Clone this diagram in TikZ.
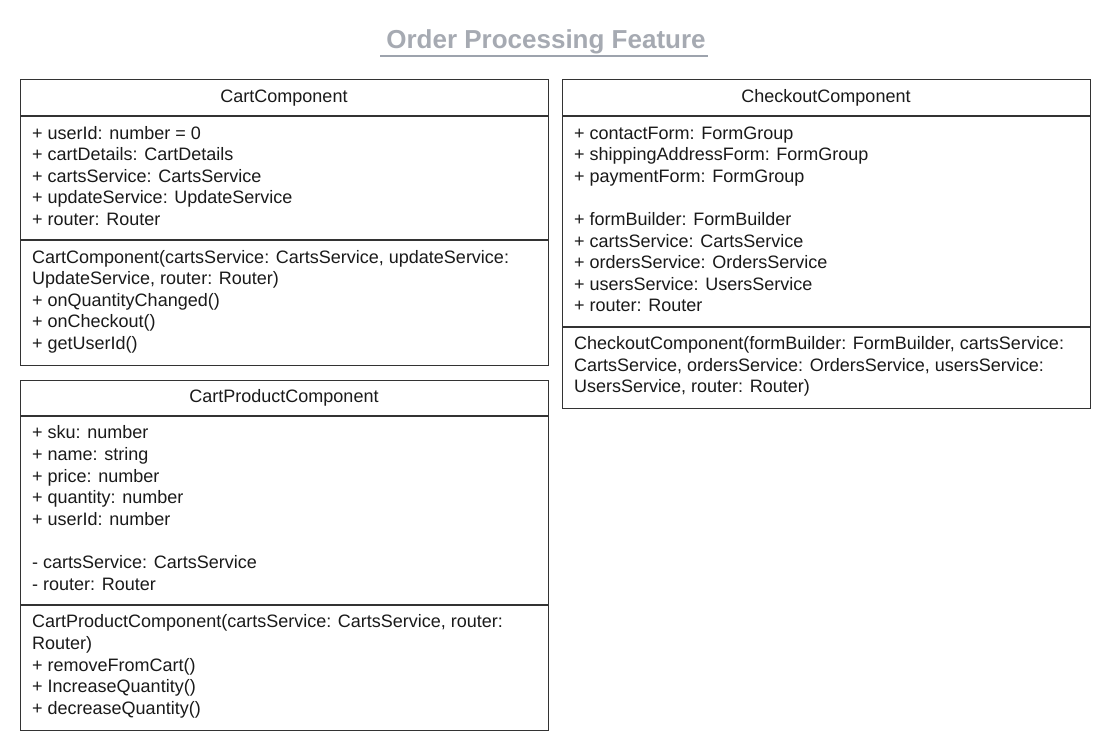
\documentclass[tikz,border=0pt]{standalone}
\usepackage{fontspec}
\setmainfont{Liberation Sans}
\definecolor{titlegray}{HTML}{A6AAB2}
\definecolor{linegray}{HTML}{9DA3AD}
\definecolor{boxline}{HTML}{333333}
\definecolor{txt}{HTML}{1A1A1A}
\begin{document}
\begin{tikzpicture}[x=1pt,y=-1pt,
  umlbox/.style={draw=boxline, line width=1.1pt, fill=white, inner sep=0pt, anchor=north west},
  divline/.style={draw=boxline, line width=1.1pt},
  rowtext/.style={anchor=base west, inner sep=0pt, text=txt, font=\fontsize{18}{21.6}\selectfont},
  headtext/.style={anchor=base, inner sep=0pt, text=txt, font=\fontsize{18}{21.6}\selectfont},
  titletext/.style={anchor=base, inner sep=0pt, text=titlegray, font=\fontsize{26}{31}\selectfont\bfseries}]
\useasboundingbox[fill=white] (0,0) rectangle (1110,748);

% title
\node[titletext] (title) at (546,48.5) {Order Processing Feature};
\coordinate (ulA) at (380,55.8);
\coordinate (ulB) at (708,55.8);
\draw[linegray, line width=2pt] (ulA) -- (ulB);

% CartComponent
\node[umlbox, minimum width=528pt, minimum height=286pt] (cart) at (20,79) {};
\draw[divline] (cart.west |- 0,116) -- (cart.east |- 0,116);
\draw[divline] (cart.west |- 0,240) -- (cart.east |- 0,240);
\node[headtext] (cartH) at (284,102.5) {CartComponent};
\foreach \t [count=\i] in {{+ userId: number = 0},{+ cartDetails: CartDetails},{+ cartsService: CartsService},{+ updateService: UpdateService},{+ router: Router}}
  \node[rowtext] (cartA\i) at (32,{139+21.6*(\i-1)}) {\t};
\foreach \t [count=\i] in {{CartComponent(cartsService: CartsService, updateService:},{UpdateService, router: Router)},{+ onQuantityChanged()},{+ onCheckout()},{+ getUserId()}}
  \node[rowtext] (cartM\i) at (32,{263+21.6*(\i-1)}) {\t};

% CartProductComponent
\node[umlbox, minimum width=528pt, minimum height=350pt] (prod) at (20,379.5) {};
\draw[divline] (prod.west |- 0,416) -- (prod.east |- 0,416);
\draw[divline] (prod.west |- 0,605) -- (prod.east |- 0,605);
\node[headtext] (prodH) at (284,402.5) {CartProductComponent};
\foreach \t [count=\i] in {{+ sku: number},{+ name: string},{+ price: number},{+ quantity: number},{+ userId: number},{},{- cartsService: CartsService},{- router: Router}}
  \node[rowtext] (prodA\i) at (32,{438.8+21.6*(\i-1)}) {\t};
\foreach \t [count=\i] in {{CartProductComponent(cartsService: CartsService, router:},{Router)},{+ removeFromCart()},{+ IncreaseQuantity()},{+ decreaseQuantity()}}
  \node[rowtext] (prodM\i) at (32,{627.8+21.6*(\i-1)}) {\t};

% CheckoutComponent
\node[umlbox, minimum width=528pt, minimum height=329pt] (chk) at (562,79) {};
\draw[divline] (chk.west |- 0,116) -- (chk.east |- 0,116);
\draw[divline] (chk.west |- 0,327) -- (chk.east |- 0,327);
\node[headtext] (chkH) at (826,102.5) {CheckoutComponent};
\foreach \t [count=\i] in {{+ contactForm: FormGroup},{+ shippingAddressForm: FormGroup},{+ paymentForm: FormGroup},{},{+ formBuilder: FormBuilder},{+ cartsService: CartsService},{+ ordersService: OrdersService},{+ usersService: UsersService},{+ router: Router}}
  \node[rowtext] (chkA\i) at (574,{139+21.6*(\i-1)}) {\t};
\foreach \t [count=\i] in {{CheckoutComponent(formBuilder: FormBuilder, cartsService:},{CartsService, ordersService: OrdersService, usersService:},{UsersService, router: Router)}}
  \node[rowtext] (chkM\i) at (574,{349.5+21.6*(\i-1)}) {\t};
\end{tikzpicture}
\end{document}
